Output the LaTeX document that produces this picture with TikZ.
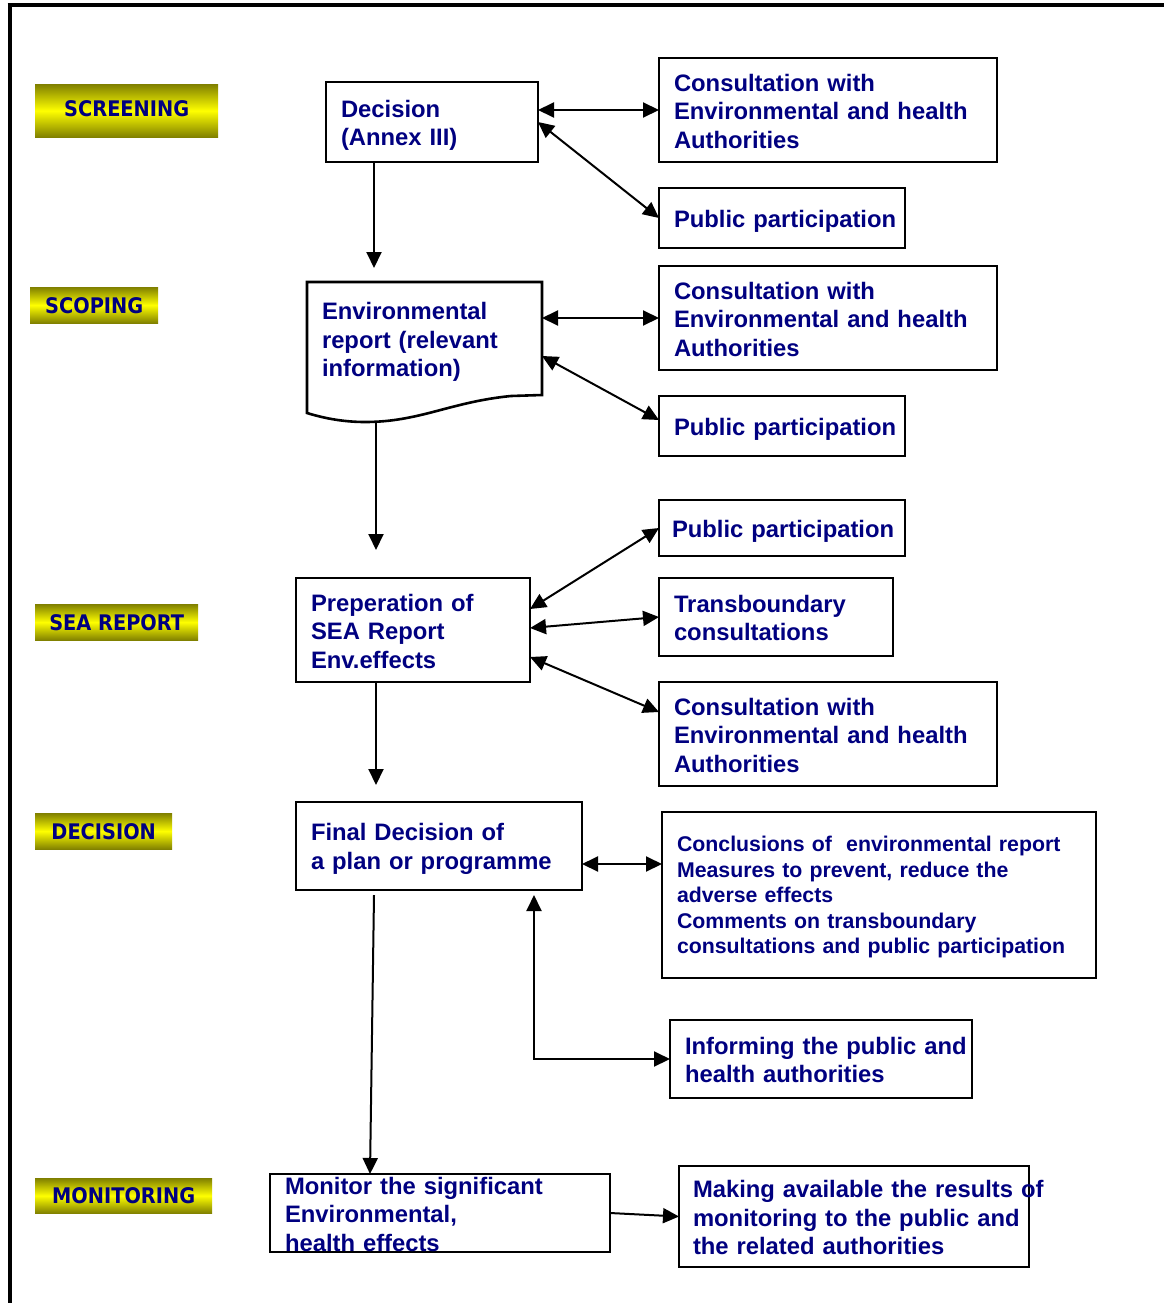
\documentclass[tikz,border=0pt]{standalone}
\usepackage{fontspec}
\setmainfont{Liberation Sans}
\newfontfamily\labfont[FakeStretch=0.9]{DejaVu Sans}
\usetikzlibrary{arrows.meta,calc}
\definecolor{navy}{RGB}{0,0,128}
\definecolor{olivey}{RGB}{128,128,0}
\newcommand{\topst}[1]{\rule{0pt}{#1}}
\begin{document}
\hyphenpenalty=10000
\exhyphenpenalty=10000
\begin{tikzpicture}[x=1pt,y=-1pt,
  box/.style={draw, line width=2.6pt, outer sep=0pt, anchor=north west, inner xsep=15pt, inner ysep=0pt,
    align=left, text=navy, font=\bfseries\fontsize{23.8}{28.5}\selectfont},
  lab/.style={anchor=north west, inner sep=0pt, top color=olivey, bottom color=olivey,
    middle color=yellow, text=navy, font=\labfont\bfseries\fontsize{21.5}{24}\selectfont},
  tip/.tip={Triangle[length=16pt,width=15pt]},
  dbl/.style={tip-tip, line width=2pt},
  arr/.style={-tip, line width=2pt}]
\useasboundingbox (0,0) rectangle (1164,1303);
% frame
\draw[line width=4pt] (7.5,5.5) -- (1164,5.5);
\draw[line width=4pt] (9.5,3.5) -- (9.5,1303);
% stage labels
\node[lab, minimum width=183pt, minimum height=53pt] (lscr) at (35,84) {\raisebox{5pt}{SCREENING}};
\node[lab, minimum width=128pt, minimum height=36pt] (lsco) at (30,287) {SCOPING};
\node[lab, minimum width=163pt, minimum height=36pt] (lsea) at (35,604) {\raisebox{-1pt}{SEA REPORT}};
\node[lab, minimum width=137pt, minimum height=36pt] (ldec) at (35,813) {DECISION};
\node[lab, minimum width=177pt, minimum height=35pt] (lmon) at (35,1178) {MONITORING};
% main column
\node[box, minimum width=212pt, minimum height=80pt, text width=182pt] (dec) at (326,82) {\topst{23.5pt}Decision\\(Annex III)};
\node[box, draw=none, minimum width=235pt, minimum height=120pt, text width=205pt] (env) at (307,282) {Environmental\\report (relevant\\information)};
\draw[line width=2.6pt, line join=miter] (307,282) -- (542,282) -- (542,395)
  -- (511,396) .. controls (450,402) and (420,422) .. (365,422)
  .. controls (340,422) and (320,417) .. (307,413) -- cycle;
\node[box, minimum width=234pt, minimum height=104pt, text width=204pt] (sea) at (296,578) {\topst{19.5pt}Preperation of\\SEA Report\\Env.effects};
\node[box, minimum width=286pt, minimum height=88pt, text width=256pt] (fin) at (296,802) {\topst{23pt}Final Decision of\\a plan or programme};
\node[box, minimum width=340pt, minimum height=78pt, text width=310pt] (mon) at (270,1174) {\topst{19.5pt}Monitor the significant\\Environmental,\\health effects};
% right column
\node[box, minimum width=338pt, minimum height=104pt, text width=308pt] (cons1) at (659,58) {\topst{19.5pt}Consultation with\\Environmental and health\\Authorities};
\node[box, minimum width=246pt, minimum height=60pt, text width=216pt] (pp1) at (659,188) {\topst{24pt}Public~participation};
\node[box, minimum width=338pt, minimum height=104pt, text width=308pt] (cons2) at (659,266) {\topst{19.5pt}Consultation with\\Environmental and health\\Authorities};
\node[box, minimum width=246pt, minimum height=60pt, text width=216pt] (pp2) at (659,396) {\topst{24pt}Public~participation};
\node[box, inner xsep=13pt, minimum width=246pt, minimum height=56pt, text width=220pt] (pp3) at (659,500) {\topst{24pt}Public~participation};
\node[box, minimum width=234pt, minimum height=78pt, text width=204pt] (trans) at (659,578) {\topst{19.5pt}Transboundary\\consultations};
\node[box, minimum width=338pt, minimum height=104pt, text width=308pt] (cons3) at (659,682) {\topst{19.5pt}Consultation with\\Environmental and health\\Authorities};
\node[box, minimum width=434pt, minimum height=166pt, text width=404pt,
  font=\bfseries\fontsize{21.3}{25.5}\selectfont] (concl) at (662,812)
  {\topst{19.5pt}Conclusions of~~environmental report\\Measures to prevent, reduce the\\adverse effects\\Comments on transboundary\\consultations and public participation};
\node[box, minimum width=302pt, minimum height=78pt, text width=272pt] (inf) at (670,1020) {\topst{19.5pt}Informing~the~public~and\\health authorities};
\node[box, inner xsep=14pt, minimum width=350pt, minimum height=101pt, text width=322pt] (mak) at (679,1166) {\topst{19.5pt}Making~available~the~results~of\\monitoring~to~the~public~and\\the related authorities};
% connectors
\coordinate (a1) at (374,268);
\draw[arr] (dec.south -| a1) -- (a1);
\draw[dbl] (cons1.west -| dec.east) -- (cons1.west);
\draw[dbl] (dec.east) -- (pp1.west);
\coordinate (a2top) at (376,422);
\coordinate (a2) at (376,550);
\draw[arr] (a2top) -- (a2);
\draw[dbl] (cons2.west -| env.east) -- (cons2.west);
\draw[dbl] ([yshift=-14pt]env.east) -- ([yshift=6pt]pp2.west);
\draw[dbl] ([yshift=21pt]sea.east) -- (pp3.west);
\draw[dbl] ([yshift=2pt]sea.east) -- (trans.west);
\draw[dbl] ([yshift=-27pt]sea.east) -- ([yshift=22pt]cons3.west);
\coordinate (a3) at (376,785);
\draw[arr] (sea.south -| a3) -- (a3);
\coordinate (f1) at ([yshift=-18pt]fin.east);
\draw[dbl] (f1) -- (f1 -| concl.west);
\coordinate (a4) at (534,895);
\draw[dbl] (a4) |- (inf.west);
\coordinate (a5) at (374,895);
\coordinate (a6) at (370,1174);
\draw[arr] (a5) -- (a6);
\draw[arr] (mon.east) -- (mak.west);
\end{tikzpicture}
\end{document}
